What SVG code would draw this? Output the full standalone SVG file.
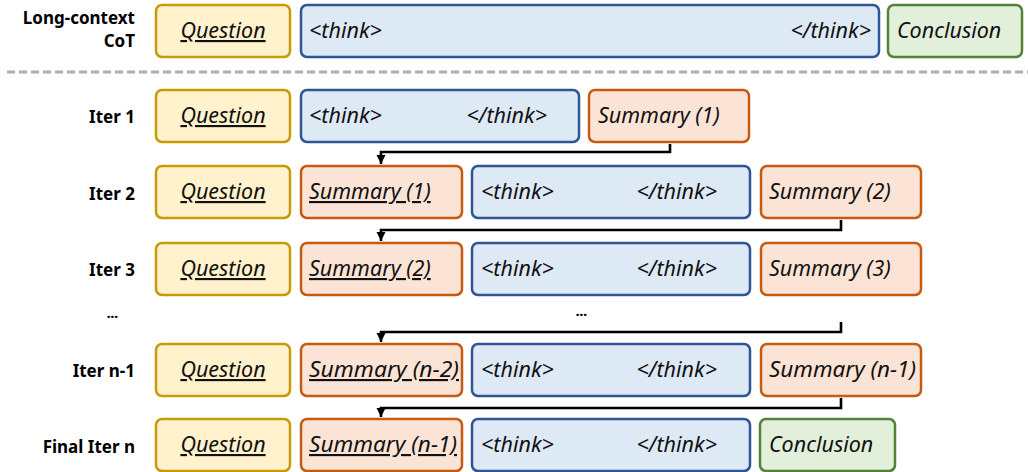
<svg xmlns="http://www.w3.org/2000/svg" width="1028" height="472" viewBox="0 0 1028 472">
<style>
.lbl{font-family:"Noto Sans","DejaVu Sans",sans-serif;font-weight:bold;font-size:17px;fill:#000;text-anchor:end}
.t{font-family:"Noto Sans","DejaVu Sans",sans-serif;font-style:italic;font-size:21.5px;fill:#111}
.u{text-decoration:underline}
.mid{text-anchor:middle}
.end{text-anchor:end}
.q{fill:#fff2cc;stroke:#c99a06;stroke-width:2.5}
.b{fill:#dee9f6;stroke:#2f5597;stroke-width:2.5}
.o{fill:#fbe4d6;stroke:#c55a11;stroke-width:2.5}
.g{fill:#e2efda;stroke:#548235;stroke-width:2.5}
.c{fill:none;stroke:#000;stroke-width:2.6}
</style>
<defs>
<marker id="ah" viewBox="0 0 10 10" refX="10" refY="5" markerWidth="3.5" markerHeight="3.5" orient="auto" markerUnits="strokeWidth">
<path d="M0,0 L10,5 L0,10 z" fill="#000"/>
</marker>
</defs>

<g id="labels">
<text class="lbl" x="135" y="24">Long-context</text>
<text class="lbl" x="135" y="47">CoT</text>
<text class="lbl" x="135" y="123">Iter 1</text>
<text class="lbl" x="135" y="200">Iter 2</text>
<text class="lbl" x="135" y="276">Iter 3</text>
<text class="lbl" x="118" y="318" style="font-size:13px;font-weight:900">...</text>
<text class="lbl" x="135" y="377">Iter n-1</text>
<text class="lbl" x="135" y="453">Final Iter n</text>
<text class="lbl" x="587" y="316" style="font-size:13px;font-weight:900">...</text>
</g>

<line x1="7" y1="72" x2="1028" y2="72" stroke="#b0acac" stroke-width="3" stroke-dasharray="8,4"/>

<g id="connectors">
<path class="c" d="M670,144 V152 H381 V164" marker-end="url(#ah)"/>
<path class="c" d="M841,220 V230 H381 V241" marker-end="url(#ah)"/>
<path class="c" d="M841,322 V332 H381 V342" marker-end="url(#ah)"/>
<path class="c" d="M841,398 V408 H381 V417" marker-end="url(#ah)"/>
</g>

<!-- Row: Long-context CoT -->
<g id="lc-question"><rect class="q" x="156" y="5" width="134" height="52" rx="6"/><text class="t u mid" x="223" y="38">Question</text></g>
<g id="lc-think"><rect class="b" x="301" y="5" width="578" height="52" rx="6"/><text class="t" x="309" y="38">&lt;think&gt;</text><text class="t end" x="871" y="38">&lt;/think&gt;</text></g>
<g id="lc-conclusion"><rect class="g" x="888" y="5" width="134" height="52" rx="6"/><text class="t" x="897" y="38">Conclusion</text></g>

<!-- Iter 1 -->
<g id="i1-question"><rect class="q" x="156" y="90" width="134" height="52" rx="6"/><text class="t u mid" x="223" y="123">Question</text></g>
<g id="i1-think"><rect class="b" x="301" y="90" width="278" height="52" rx="6"/><text class="t" x="309" y="123">&lt;think&gt;</text><text class="t end" x="547" y="123">&lt;/think&gt;</text></g>
<g id="i1-summary"><rect class="o" x="589" y="90" width="160" height="52" rx="6"/><text class="t" x="598" y="123">Summary (1)</text></g>

<!-- Iter 2 -->
<g id="i2-question"><rect class="q" x="156" y="166" width="134" height="52" rx="6"/><text class="t u mid" x="223" y="199">Question</text></g>
<g id="i2-prev"><rect class="o" x="301" y="166" width="161" height="52" rx="6"/><text class="t u" x="309" y="199">Summary (1)</text></g>
<g id="i2-think"><rect class="b" x="472" y="166" width="278" height="52" rx="6"/><text class="t" x="481" y="199">&lt;think&gt;</text><text class="t end" x="717" y="199">&lt;/think&gt;</text></g>
<g id="i2-summary"><rect class="o" x="761" y="166" width="160" height="52" rx="6"/><text class="t" x="769" y="199">Summary (2)</text></g>

<!-- Iter 3 -->
<g id="i3-question"><rect class="q" x="156" y="243" width="134" height="52" rx="6"/><text class="t u mid" x="223" y="276">Question</text></g>
<g id="i3-prev"><rect class="o" x="301" y="243" width="161" height="52" rx="6"/><text class="t u" x="309" y="276">Summary (2)</text></g>
<g id="i3-think"><rect class="b" x="472" y="243" width="278" height="52" rx="6"/><text class="t" x="481" y="276">&lt;think&gt;</text><text class="t end" x="717" y="276">&lt;/think&gt;</text></g>
<g id="i3-summary"><rect class="o" x="761" y="243" width="160" height="52" rx="6"/><text class="t" x="769" y="276">Summary (3)</text></g>

<!-- Iter n-1 -->
<g id="in1-question"><rect class="q" x="156" y="344" width="134" height="52" rx="6"/><text class="t u mid" x="223" y="377">Question</text></g>
<g id="in1-prev"><rect class="o" x="301" y="344" width="161" height="52" rx="6"/><text class="t u" x="309" y="377" textLength="150" lengthAdjust="spacingAndGlyphs">Summary (n−2)</text></g>
<g id="in1-think"><rect class="b" x="472" y="344" width="278" height="52" rx="6"/><text class="t" x="481" y="377">&lt;think&gt;</text><text class="t end" x="717" y="377">&lt;/think&gt;</text></g>
<g id="in1-summary"><rect class="o" x="761" y="344" width="160" height="52" rx="6"/><text class="t" x="769" y="377" textLength="147" lengthAdjust="spacingAndGlyphs">Summary (n−1)</text></g>

<!-- Final Iter n -->
<g id="fn-question"><rect class="q" x="156" y="419" width="134" height="52" rx="6"/><text class="t u mid" x="223" y="452">Question</text></g>
<g id="fn-prev"><rect class="o" x="301" y="419" width="161" height="52" rx="6"/><text class="t u" x="309" y="452" textLength="148" lengthAdjust="spacingAndGlyphs">Summary (n−1)</text></g>
<g id="fn-think"><rect class="b" x="472" y="419" width="278" height="52" rx="6"/><text class="t" x="481" y="452">&lt;think&gt;</text><text class="t end" x="717" y="452">&lt;/think&gt;</text></g>
<g id="fn-conclusion"><rect class="g" x="760" y="419" width="135" height="52" rx="6"/><text class="t" x="769" y="452">Conclusion</text></g>
</svg>
